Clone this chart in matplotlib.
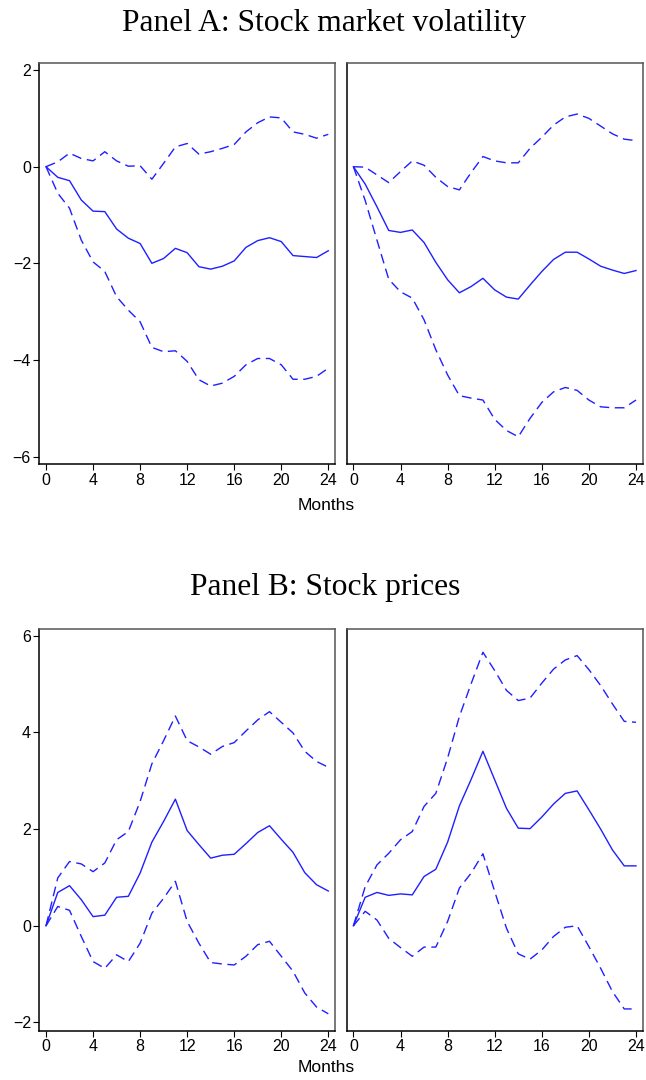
import numpy as np
import matplotlib.pyplot as plt

months = np.arange(25)

# Panel A: stock market volatility (left and right columns)
a_left_mid = [0, -0.22, -0.29, -0.69, -0.92, -0.93, -1.29, -1.48, -1.59, -2.00, -1.90, -1.69, -1.78,
              -2.07, -2.12, -2.06, -1.95, -1.67, -1.53, -1.47, -1.55, -1.84, -1.86, -1.88, -1.74]
a_left_hi = [0, 0.10, 0.28, 0.17, 0.12, 0.31, 0.12, 0.01, 0.02, -0.26, 0.07, 0.41, 0.48,
             0.26, 0.31, 0.38, 0.46, 0.72, 0.91, 1.03, 1.01, 0.72, 0.67, 0.59, 0.67]
a_left_lo = [0, -0.55, -0.86, -1.52, -1.97, -2.17, -2.69, -2.97, -3.21, -3.74, -3.83, -3.81, -4.03,
             -4.41, -4.54, -4.48, -4.34, -4.10, -3.97, -3.97, -4.10, -4.40, -4.40, -4.34, -4.17]

a_right_mid = [0, -0.36, -0.83, -1.32, -1.36, -1.31, -1.57, -1.98, -2.34, -2.61, -2.48, -2.31, -2.55,
               -2.70, -2.74, -2.45, -2.17, -1.92, -1.77, -1.77, -1.91, -2.06, -2.14, -2.21, -2.15]
a_right_hi = [0, -0.01, -0.17, -0.33, -0.10, 0.12, 0.03, -0.22, -0.41, -0.48, -0.12, 0.21, 0.12,
              0.08, 0.08, 0.38, 0.61, 0.86, 1.03, 1.09, 1.00, 0.84, 0.68, 0.57, 0.54]
a_right_lo = [0, -0.70, -1.52, -2.33, -2.59, -2.72, -3.17, -3.79, -4.31, -4.74, -4.79, -4.83, -5.23,
              -5.46, -5.59, -5.21, -4.88, -4.66, -4.57, -4.63, -4.83, -4.97, -4.99, -4.99, -4.83]

# Panel B: stock prices
b_left_mid = [0, 0.69, 0.83, 0.54, 0.19, 0.22, 0.59, 0.61, 1.09, 1.73, 2.16, 2.62, 1.97,
              1.68, 1.40, 1.46, 1.48, 1.70, 1.93, 2.07, 1.79, 1.52, 1.10, 0.85, 0.72]
b_left_hi = [0, 0.99, 1.33, 1.28, 1.12, 1.30, 1.78, 1.95, 2.57, 3.35, 3.83, 4.34, 3.83,
             3.70, 3.55, 3.71, 3.79, 4.03, 4.26, 4.43, 4.21, 3.99, 3.61, 3.40, 3.28]
b_left_lo = [0, 0.40, 0.32, -0.22, -0.74, -0.88, -0.60, -0.74, -0.36, 0.26, 0.57, 0.92, 0.09,
             -0.36, -0.76, -0.79, -0.81, -0.63, -0.39, -0.32, -0.63, -0.94, -1.39, -1.68, -1.82]

b_right_mid = [0, 0.59, 0.69, 0.63, 0.66, 0.64, 1.02, 1.17, 1.73, 2.48, 3.03, 3.61, 3.02,
               2.43, 2.02, 2.01, 2.25, 2.52, 2.74, 2.79, 2.40, 2.00, 1.57, 1.24, 1.24]
b_right_hi = [0, 0.81, 1.26, 1.50, 1.78, 1.95, 2.47, 2.74, 3.47, 4.33, 5.01, 5.66, 5.28,
              4.87, 4.66, 4.71, 5.02, 5.31, 5.50, 5.59, 5.30, 4.97, 4.59, 4.23, 4.21]
b_right_lo = [0, 0.30, 0.12, -0.26, -0.45, -0.63, -0.44, -0.44, 0.09, 0.78, 1.09, 1.49, 0.71,
              -0.05, -0.58, -0.69, -0.50, -0.22, -0.03, 0.00, -0.43, -0.88, -1.36, -1.72, -1.72]

x_ticks = [0, 4, 8, 12, 16, 20, 24]
a_yticks = [-6, -4, -2, 0, 2]
b_yticks = [-2, 0, 2, 4, 6]

W, H = 646, 1080
tick_font = ['Liberation Sans Narrow', 'Liberation Sans', 'DejaVu Sans']
line_col = '#1f1fff'

fig = plt.figure(figsize=(W / 100, H / 100), dpi=100)


def px_axes(x0, y0, x1, y1):
    # box given in pixel coords (top-left origin)
    return fig.add_axes([x0 / W, 1 - y1 / H, (x1 - x0) / W, (y1 - y0) / H])


def style_axes(ax, ylim, yticks, show_y):
    ax.set_xlim(-0.57, 24.57)
    ax.set_ylim(*ylim)
    ax.set_xticks(x_ticks)
    ax.set_yticks(yticks)
    ax.set_xticklabels([str(t) for t in x_ticks], family=tick_font, fontsize=11.5)
    if show_y:
        ax.set_yticklabels([str(t).replace('-', '\u2212') for t in yticks], family=tick_font, fontsize=11.5)
    else:
        ax.tick_params(axis='y', left=False, labelleft=False)
    ax.tick_params(axis='both', direction='out', length=4, width=0.8, pad=2)
    for side in ['left', 'bottom']:
        ax.spines[side].set_color('black')
        ax.spines[side].set_linewidth(1.1)
    for side in ['top', 'right']:
        ax.spines[side].set_color('#555555')
        ax.spines[side].set_linewidth(1.1)


def draw(ax, mid, hi, lo):
    ax.plot(months, mid, color=line_col, lw=1.0)
    ax.plot(months, hi, color=line_col, lw=1.0, dashes=(7, 4))
    ax.plot(months, lo, color=line_col, lw=1.0, dashes=(7, 4))


a_ylim = (-6.16, 2.14)
b_ylim = (-2.17, 6.14)

ax1 = px_axes(39.3, 63.3, 335, 464.3)
draw(ax1, a_left_mid, a_left_hi, a_left_lo)
style_axes(ax1, a_ylim, a_yticks, True)

ax2 = px_axes(346.7, 63.3, 642.7, 464.3)
draw(ax2, a_right_mid, a_right_hi, a_right_lo)
style_axes(ax2, a_ylim, a_yticks, False)

ax3 = px_axes(39.3, 629, 335, 1030.7)
draw(ax3, b_left_mid, b_left_hi, b_left_lo)
style_axes(ax3, b_ylim, b_yticks, True)

ax4 = px_axes(346.7, 629, 642.7, 1030.7)
draw(ax4, b_right_mid, b_right_hi, b_right_lo)
style_axes(ax4, b_ylim, b_yticks, False)

title_font = ['Liberation Serif', 'DejaVu Serif']
fig.text(324 / W, 1 - 23 / H, 'Panel A: Stock market volatility', family=title_font,
         fontsize=22.7, ha='center', va='center')
fig.text(325 / W, 1 - 587 / H, 'Panel B: Stock prices', family=title_font,
         fontsize=22.7, ha='center', va='center')
fig.text(326 / W, 1 - 505 / H, 'Months', family=tick_font, fontsize=12.5, ha='center', va='center')
fig.text(326 / W, 1 - 1068 / H, 'Months', family=tick_font, fontsize=12.5, ha='center', va='center')

fig.savefig('out.png', dpi=100)
